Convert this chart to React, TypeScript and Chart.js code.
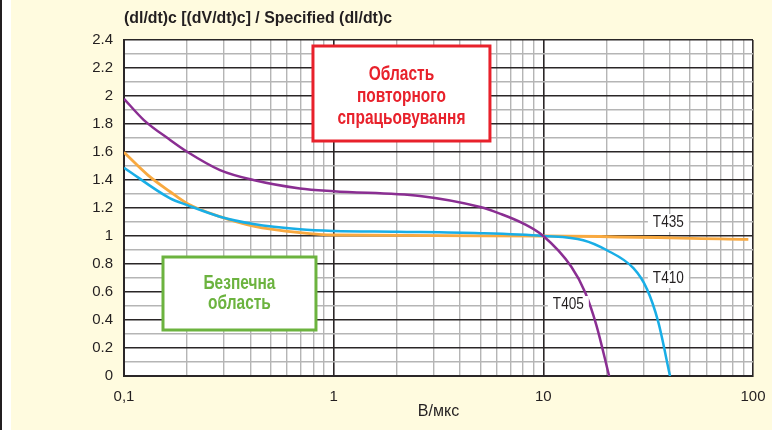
import React, { useEffect, useRef } from "react";
import { Chart, registerables } from "chart.js";

Chart.register(...registerables);

const titleText = "(dl/dt)c [(dV/dt)c] / Specified (dl/dt)c";
const xAxisTitle = "В/мкс";
const redBoxLines = ["Область", "повторного", "спрацьовування"];
const greenBoxLines = ["Безпечна", "область"];

const xTicks = [0.1, 0.2, 0.3, 0.4, 0.5, 0.6, 0.7, 0.8, 0.9, 1, 2, 3, 4, 5, 6, 7, 8, 9, 10, 20, 30, 40, 50, 60, 70, 80, 90, 100];
const xLabelMap: Record<string, string> = { "0.1": "0,1", "1": "1", "10": "10", "100": "100" };

const x405 = [0.1, 0.124, 0.166, 0.2, 0.287, 0.414, 0.69, 1, 2.58, 5, 6.2, 8, 10, 13.6, 15.8, 17.9, 20.6];
const y405 = [1.98, 1.83, 1.686, 1.602, 1.471, 1.4, 1.34, 1.32, 1.286, 1.207, 1.16, 1.09, 1.0, 0.78, 0.6, 0.364, 0];

const x410 = [0.1, 0.166, 0.2, 0.287, 0.414, 0.69, 1, 2, 5, 10, 15.5, 20, 26.9, 31.1, 35.3, 40.2];
const y410 = [1.488, 1.269, 1.221, 1.138, 1.086, 1.048, 1.036, 1.03, 1.02, 1.0, 0.97, 0.9, 0.77, 0.626, 0.388, 0];

const x435 = [0.1, 0.13, 0.166, 0.2, 0.287, 0.414, 0.69, 1, 10, 95];
const y435 = [1.598, 1.435, 1.316, 1.233, 1.138, 1.071, 1.024, 1.007, 1.0, 0.976];

const seriesLabels = ["T405", "T410", "T435"];
// label anchor (left edge of text, vertical middle): [x value, y value]
const labelAnchors: [number, number][] = [
  [11.1, 0.507],
  [33.3, 0.693],
  [33.3, 1.093],
];

const REG = "'Liberation Sans', Arial, Helvetica, sans-serif";

const pts = (xs: number[], ys: number[]) => xs.map((x, i) => ({ x, y: ys[i] }));

// draw text horizontally condensed by factor sx
function drawText(ctx: any, text: string, x: number, y: number, sx: number, align: string) {
  ctx.save();
  ctx.translate(x, y);
  ctx.scale(sx, 1);
  ctx.textAlign = align;
  ctx.fillText(text, 0, 0);
  ctx.restore();
}

const decorPlugin = {
  id: "decor",
  beforeDraw(chart: any) {
    const { ctx, width, height, chartArea } = chart;
    ctx.save();
    ctx.fillStyle = "#FFFBDF";
    ctx.fillRect(0, 0, width, height);
    ctx.fillStyle = "#FFFFFF";
    ctx.fillRect(2, 0, 9, height);
    ctx.fillStyle = "#231F20";
    ctx.fillRect(0, 0, 2, height);
    ctx.fillStyle = "#FFFFFF";
    ctx.fillRect(chartArea.left, chartArea.top, chartArea.right - chartArea.left, chartArea.bottom - chartArea.top);
    // title
    ctx.fillStyle = "#231F20";
    ctx.font = `bold 16px ${REG}`;
    ctx.textBaseline = "alphabetic";
    const tw = ctx.measureText(titleText).width;
    drawText(ctx, titleText, 124, 23, 268 / tw, "left");
    // x axis title
    ctx.font = `16px ${REG}`;
    ctx.textBaseline = "middle";
    const aw = ctx.measureText(xAxisTitle).width;
    drawText(ctx, xAxisTitle, (chartArea.left + chartArea.right) / 2, 412, Math.min(1, 45 / aw), "center");
    ctx.restore();
  },
  afterDatasetsDraw(chart: any) {
    const { ctx } = chart;
    const xs = chart.scales.x;
    const ys = chart.scales.y;
    ctx.save();
    ctx.font = `bold 20px ${REG}`;
    const boxScale = 128 / ctx.measureText("спрацьовування").width;
    const drawBox = (x0: number, x1: number, y0: number, y1: number, color: string, lines: string[], lh: number, dy: number) => {
      const l = xs.getPixelForValue(x0);
      const r = xs.getPixelForValue(x1);
      const t = ys.getPixelForValue(y1);
      const b = ys.getPixelForValue(y0);
      ctx.fillStyle = "#FFFFFF";
      ctx.fillRect(l, t, r - l, b - t);
      ctx.strokeStyle = color;
      ctx.lineWidth = 3;
      ctx.strokeRect(l, t, r - l, b - t);
      ctx.fillStyle = color;
      ctx.font = `bold 20px ${REG}`;
      ctx.textBaseline = "middle";
      const cx = (l + r) / 2;
      const cy = (t + b) / 2 + dy;
      lines.forEach((s, i) => {
        drawText(ctx, s, cx, cy + (i - (lines.length - 1) / 2) * lh, boxScale, "center");
      });
    };
    const inv = (px: number) => 0.1 * Math.pow(10, (px - 124) / 209.7);
    const invY = (py: number) => (376 - py) / 140;
    drawBox(inv(313), inv(490), invY(141), invY(46), "#E8212B", redBoxLines, 22, 2.5);
    drawBox(inv(163), inv(316), invY(330), invY(257), "#6CB33F", greenBoxLines, 20.5, 0);
    // series labels
    ctx.font = `16px ${REG}`;
    ctx.textBaseline = "middle";
    seriesLabels.forEach((s, i) => {
      const px = xs.getPixelForValue(labelAnchors[i][0]);
      const py = ys.getPixelForValue(labelAnchors[i][1]);
      const w = ctx.measureText(s).width * 0.85;
      ctx.fillStyle = "#FFFFFF";
      ctx.fillRect(px - 5, py - 9, w + 10, 18);
      ctx.fillStyle = "#231F20";
      drawText(ctx, s, px, py, 0.85, "left");
    });
    ctx.restore();
  },
};

export default function App() {
  const ref = useRef<HTMLCanvasElement>(null);
  useEffect(() => {
    if (!ref.current) return;
    const major = "#2A2627";
    const minor = "#B5B5B5";
    const chart = new Chart(ref.current, {
      type: "line",
      data: {
        datasets: [
          { label: "T405", data: pts(x405, y405), borderColor: "#8A2E92", borderWidth: 2.5, pointRadius: 0, cubicInterpolationMode: "monotone", fill: false },
          { label: "T410", data: pts(x410, y410), borderColor: "#19AEE6", borderWidth: 2.5, pointRadius: 0, cubicInterpolationMode: "monotone", fill: false },
          { label: "T435", data: pts(x435, y435), borderColor: "#F8A940", borderWidth: 2.8, pointRadius: 0, cubicInterpolationMode: "monotone", fill: false },
        ],
      },
      options: {
        responsive: false,
        animation: false,
        layout: { padding: { left: 0, right: 19, top: 40, bottom: 0 } },
        plugins: { legend: { display: false }, tooltip: { enabled: false } },
        scales: {
          x: {
            type: "logarithmic",
            min: 0.1,
            max: 100,
            afterBuildTicks: (scale: any) => {
              scale.ticks = xTicks.map((v) => ({ value: v }));
            },
            afterFit: (scale: any) => {
              scale.height = 54;
              scale.paddingLeft = 0;
              scale.paddingRight = 0;
            },
            ticks: {
              autoSkip: false,
              maxRotation: 0,
              padding: 12,
              color: "#231F20",
              font: { family: REG, size: 15 },
              callback: (v: any) => {
                const key = String(Math.round(Number(v) * 10) / 10);
                return xLabelMap[key] ?? "";
              },
            },
            grid: {
              drawTicks: false,
              color: (c: any) => {
                const v = c.tick ? c.tick.value : 0;
                const lg = Math.log10(v);
                return Math.abs(lg - Math.round(lg)) < 1e-6 ? major : minor;
              },
              lineWidth: (c: any) => {
                const v = c.tick ? c.tick.value : 0;
                const lg = Math.log10(v);
                return Math.abs(lg - Math.round(lg)) < 1e-6 ? 1.6 : 1.4;
              },
            },
            border: { color: major, width: 2 },
          },
          y: {
            min: 0,
            max: 2.4,
            afterFit: (scale: any) => {
              scale.width = 124;
            },
            ticks: {
              stepSize: 0.1,
              autoSkip: false,
              padding: 11,
              color: "#231F20",
              font: { family: REG, size: 15 },
              callback: (v: any) => {
                const n = Math.round(Number(v) * 10);
                return n % 2 === 0 ? String(n / 10) : "";
              },
            },
            grid: {
              drawTicks: false,
              color: (c: any) => {
                const n = Math.round((c.tick ? c.tick.value : 0) * 10);
                return n % 2 === 0 ? major : minor;
              },
              lineWidth: (c: any) => {
                const n = Math.round((c.tick ? c.tick.value : 0) * 10);
                return n % 2 === 0 ? 1.6 : 1.4;
              },
            },
            border: { color: major, width: 2 },
          },
        },
      },
      plugins: [decorPlugin],
    } as any);
    return () => chart.destroy();
  }, []);
  return (
    <div style={{ position: "absolute", left: 0, top: 0 }}>
      <canvas ref={ref} width={772} height={430} style={{ display: "block" }} />
    </div>
  );
}
